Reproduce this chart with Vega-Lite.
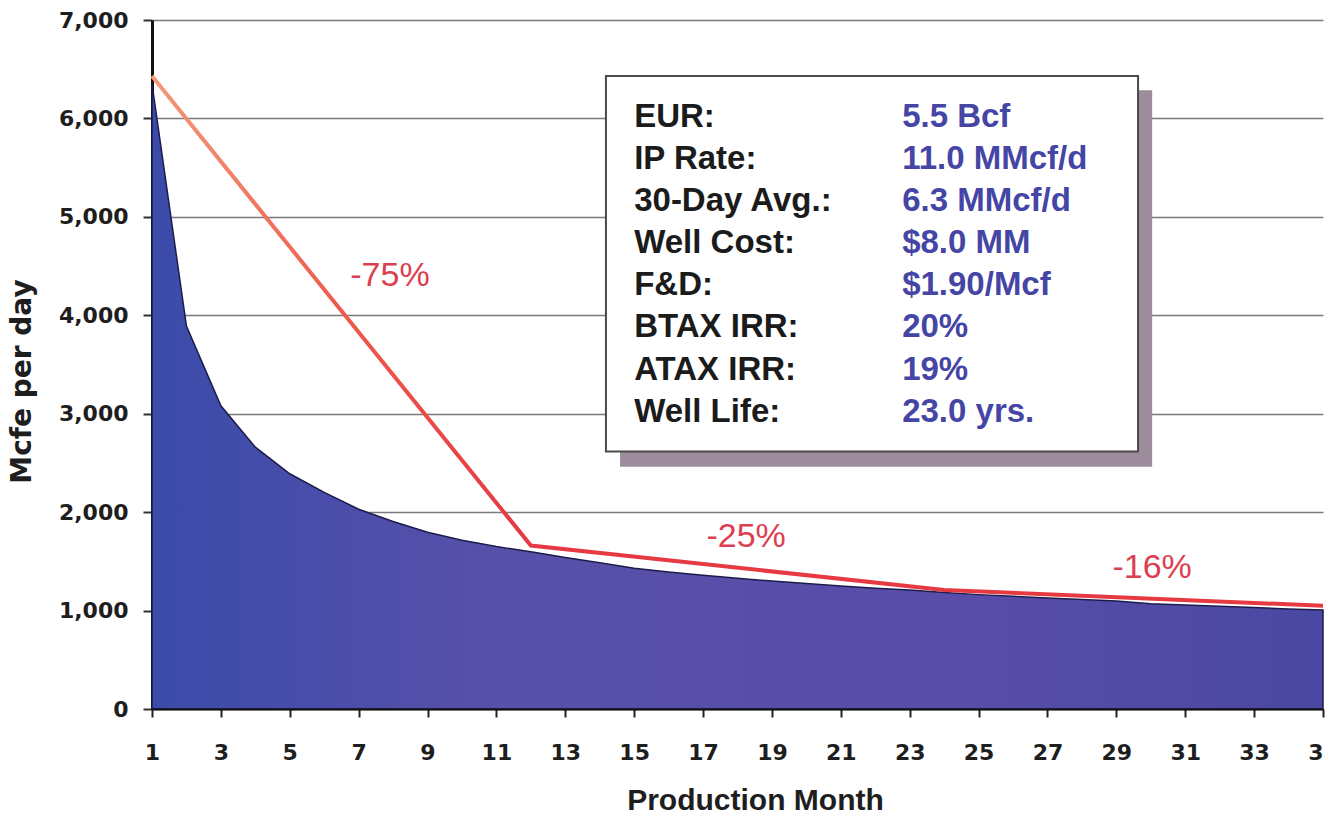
{
  "$schema": "https://vega.github.io/schema/vega-lite/v6.json",
  "width": 1171,
  "height": 689,
  "autosize": {"type": "none"},
  "padding": {"left": 152, "top": 20, "right": 2, "bottom": 112},
  "background": "white",
  "config": {
    "view": {"stroke": null}
  },
  "datasets": {
    "prod": [
      {"month": 1, "rate": 6350}, {"month": 2, "rate": 3890}, {"month": 3, "rate": 3080},
      {"month": 4, "rate": 2660}, {"month": 5, "rate": 2390}, {"month": 6, "rate": 2200},
      {"month": 7, "rate": 2030}, {"month": 8, "rate": 1905}, {"month": 9, "rate": 1795},
      {"month": 10, "rate": 1715}, {"month": 11, "rate": 1650}, {"month": 12, "rate": 1597},
      {"month": 13, "rate": 1540}, {"month": 14, "rate": 1485}, {"month": 15, "rate": 1430},
      {"month": 16, "rate": 1392}, {"month": 17, "rate": 1358}, {"month": 18, "rate": 1328},
      {"month": 19, "rate": 1300}, {"month": 20, "rate": 1275}, {"month": 21, "rate": 1250},
      {"month": 22, "rate": 1228}, {"month": 23, "rate": 1208}, {"month": 24, "rate": 1184},
      {"month": 25, "rate": 1162}, {"month": 26, "rate": 1145}, {"month": 27, "rate": 1128},
      {"month": 28, "rate": 1112}, {"month": 29, "rate": 1096}, {"month": 30, "rate": 1070},
      {"month": 31, "rate": 1056}, {"month": 32, "rate": 1043}, {"month": 33, "rate": 1030},
      {"month": 34, "rate": 1017}, {"month": 35, "rate": 1005}
    ],
    "decline": [
      {"month": 1, "rate": 6430}, {"month": 12, "rate": 1660},
      {"month": 24, "rate": 1210}, {"month": 35, "rate": 1048}
    ],
    "annot": [
      {"label": "-75%", "month": 7.91, "rate": 4395},
      {"label": "-25%", "month": 18.25, "rate": 1750},
      {"label": "-16%", "month": 30.04, "rate": 1435}
    ],
    "stats": [
      {"row": 1, "item": "EUR:", "value": "5.5 Bcf"},
      {"row": 2, "item": "IP Rate:", "value": "11.0 MMcf/d"},
      {"row": 3, "item": "30-Day Avg.:", "value": "6.3 MMcf/d"},
      {"row": 4, "item": "Well Cost:", "value": "$8.0 MM"},
      {"row": 5, "item": "F&D:", "value": "$1.90/Mcf"},
      {"row": 6, "item": "BTAX IRR:", "value": "20%"},
      {"row": 7, "item": "ATAX IRR:", "value": "19%"},
      {"row": 8, "item": "Well Life:", "value": "23.0 yrs."}
    ],
    "box": [{"panel": "stats"}]
  },
  "layer": [
    {
      "layer": [
        {
          "data": {"name": "prod"},
          "mark": {
            "type": "area",
            "color": {
              "gradient": "linear", "x1": 0, "y1": 0, "x2": 1, "y2": 0,
              "stops": [
                {"offset": 0, "color": "#3b4ba9"},
                {"offset": 0.3, "color": "#5850aa"},
                {"offset": 0.7, "color": "#584da8"},
                {"offset": 1, "color": "#4a48a2"}
              ]
            },
            "fillOpacity": 1,
            "stroke": "#1c1c4c",
            "strokeWidth": 1.5
          },
          "encoding": {
            "x": {
              "field": "month", "type": "quantitative",
              "scale": {"domain": [1, 35], "nice": false, "zero": false},
              "axis": {
                "values": [1, 3, 5, 7, 9, 11, 13, 15, 17, 19, 21, 23, 25, 27, 29, 31, 33, 35],
                "format": "d",
                "grid": false,
                "zindex": 1,
                "labelFlush": false,
                "labelOverlap": false,
                "labelFont": "DejaVu Sans",
                "labelFontWeight": "bold",
                "labelFontSize": 22,
                "labelColor": "#1e1e1e",
                "labelPadding": 25,
                "tickSize": 8,
                "tickWidth": 2,
                "tickColor": "#222",
                "domainColor": "#111",
                "domainWidth": 2,
                "title": "Production Month",
                "titleFont": "Liberation Sans",
                "titleFontWeight": "bold",
                "titleFontSize": 30,
                "titleColor": "#1e1e1e",
                "titlePadding": 22,
                "titleX": 603
              }
            },
            "y": {
              "field": "rate", "type": "quantitative",
              "scale": {"domain": [0, 7000], "nice": false},
              "axis": {
                "values": [0, 1000, 2000, 3000, 4000, 5000, 6000, 7000],
                "format": ",d",
                "grid": true,
                "gridColor": "#7a7a7a",
                "gridWidth": 1.5,
                "labelFont": "DejaVu Sans",
                "labelFontWeight": "bold",
                "labelFontSize": 22,
                "labelColor": "#1e1e1e",
                "labelPadding": 15,
                "tickSize": 9,
                "tickWidth": 2,
                "tickColor": "#333",
                "domainColor": "#111",
                "domainWidth": 3,
                "title": "Mcfe per day",
                "titleFont": "DejaVu Sans",
                "titleFontWeight": "bold",
                "titleFontSize": 28,
                "titleColor": "#1e1e1e",
                "titlePadding": 22,
                "titleY": 361
              }
            }
          }
        },
        {
          "data": {"name": "decline"},
          "mark": {
            "type": "line",
            "strokeWidth": 4,
            "strokeJoin": "miter",
            "stroke": {
              "gradient": "linear", "x1": 0, "y1": 0, "x2": 0, "y2": 1,
              "stops": [
                {"offset": 0, "color": "#f39a78"},
                {"offset": 0.45, "color": "#ee5a4e"},
                {"offset": 0.85, "color": "#e63a42"},
                {"offset": 1, "color": "#e63a42"}
              ]
            }
          },
          "encoding": {
            "x": {"field": "month", "type": "quantitative"},
            "y": {"field": "rate", "type": "quantitative"}
          }
        },
        {
          "data": {"name": "box"},
          "mark": {"type": "rect", "fill": "#9c8c9c"},
          "encoding": {
            "x": {"datum": 14.59, "type": "quantitative"},
            "x2": {"datum": 30.04},
            "y": {"datum": 6287, "type": "quantitative"},
            "y2": {"datum": 2462}
          }
        },
        {
          "data": {"name": "box"},
          "mark": {"type": "rect", "fill": "white", "stroke": "#4a4a4a", "strokeWidth": 2},
          "encoding": {
            "x": {"datum": 14.18, "type": "quantitative"},
            "x2": {"datum": 29.63},
            "y": {"datum": 6430, "type": "quantitative"},
            "y2": {"datum": 2615}
          }
        },
        {
          "data": {"name": "annot"},
          "mark": {
            "type": "text",
            "font": "Liberation Sans",
            "fontSize": 34,
            "color": "#dc3f4f",
            "align": "center",
            "baseline": "middle"
          },
          "encoding": {
            "x": {"field": "month", "type": "quantitative"},
            "y": {"field": "rate", "type": "quantitative"},
            "text": {"field": "label"}
          }
        }
      ]
    },
    {
      "data": {"name": "stats"},
      "layer": [
        {
          "mark": {
            "type": "text", "align": "left", "baseline": "middle",
            "font": "Liberation Sans", "fontWeight": "bold", "fontSize": 33,
            "color": "#1b1b1b"
          },
          "encoding": {
            "x": {"datum": 15.0, "type": "quantitative"},
            "y": {
              "field": "row", "type": "quantitative",
              "scale": {"domain": [-1.304, 15.062], "reverse": true, "nice": false, "zero": false},
              "axis": null
            },
            "text": {"field": "item"}
          }
        },
        {
          "mark": {
            "type": "text", "align": "left", "baseline": "middle",
            "font": "Liberation Sans", "fontWeight": "bold", "fontSize": 33,
            "color": "#4545a5"
          },
          "encoding": {
            "x": {"datum": 22.78, "type": "quantitative"},
            "y": {"field": "row", "type": "quantitative"},
            "text": {"field": "value"}
          }
        }
      ]
    }
  ],
  "resolve": {"scale": {"y": "independent"}}
}
